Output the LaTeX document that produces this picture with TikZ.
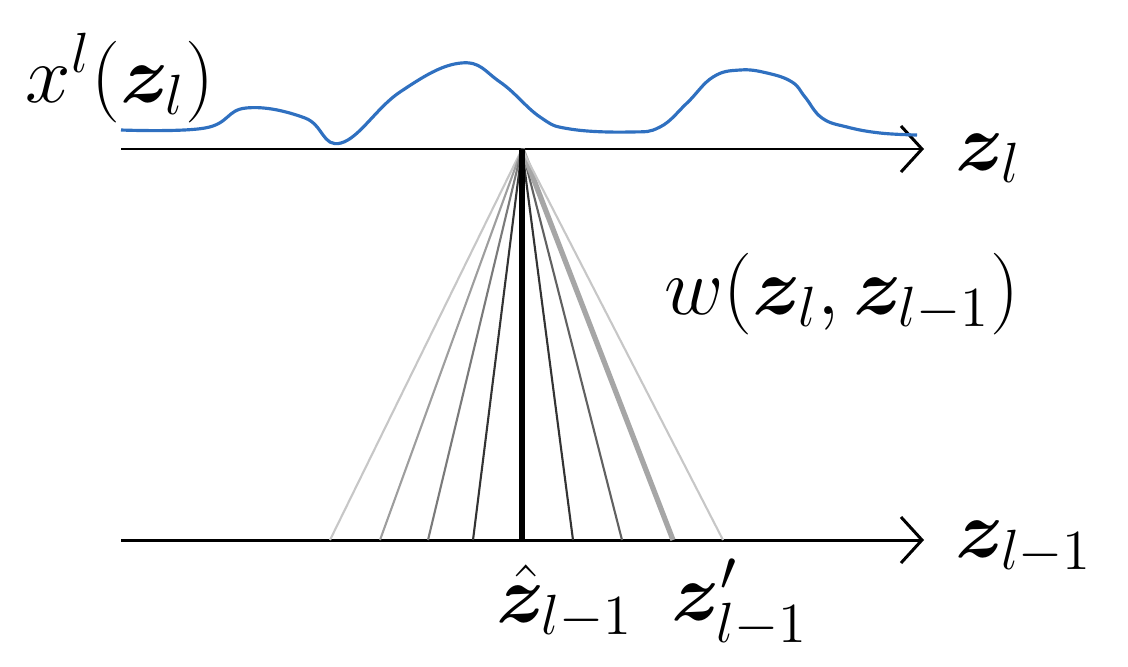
\documentclass[tikz,border=0pt]{standalone}
\usepackage{amsmath,amssymb,bm}
\usepackage{tikz}
\usetikzlibrary{arrows.meta}
\definecolor{signal}{HTML}{2F70C0}
\newcommand{\zv}{\bm{z}}

\begin{document}
\begin{tikzpicture}[x=0.1mm,y=-0.1mm,
  font=\fontsize{20}{24}\selectfont,
  axis/.style={line width=0.85pt,-{Straight Barb[length=2.1mm,width=4.6mm,line width=0.85pt]}},
  ray/.style={line width=0.6pt},
  lbl/.style={inner sep=0pt,scale=1.12,transform shape}]
\useasboundingbox (0,0) rectangle (1128,666);
% axes
\coordinate (top0) at (121,149);
\coordinate (top1) at (924,149);
\coordinate (bot0) at (121,540);
\coordinate (bot1) at (924,540);
\coordinate (apex) at (522,149);
\draw[axis] (top0) -- (top1);
\draw[axis] (bot0) -- (bot1);
% weights
\foreach \x/\c/\w [count=\i] in {330/black!22/0.6pt,380/black!38/0.6pt,428/black!52/0.6pt,473/black!80/0.6pt,
    573/black!80/0.6pt,622/black!62/0.6pt,673/black!35/1.5pt,723/black!22/0.6pt}{
  \coordinate (b\i) at (\x,540);
  \draw[ray,draw=\c,line width=\w] (apex) -- (b\i);
}
\coordinate (bhat) at (522,540);
\draw[line width=1.7pt] (apex) -- (bhat);
% signal
\draw[signal,line width=0.9pt] plot[smooth,tension=0.7] coordinates {
  (121,130) (205,128) (246,108) (305,118) (341,143) (400,92) (461,63)
  (500,82) (540,117) (570,129) (630,132) (660,127) (687,103) (713,77) (740,70)
  (767,73) (792,82) (805,97) (822,118) (847,127) (880,133) (917,135)};
% labels
\node[lbl] (xl) at (120,78) {$x^{l}(\zv_l)$};
\node[lbl,anchor=west] (zl) at (955,158) {$\zv_l$};
\node[lbl,anchor=west] (zlm) at (955,548) {$\zv_{l-1}$};
\node[lbl] (wt) at (842,294) {$w(\zv_l,\zv_{l-1})$};
\node[lbl] (zhat) at (565,602) {$\hat{\zv}_{l-1}$};
\node[lbl] (zpr) at (740,603) {$\zv'_{l-1}$};
\end{tikzpicture}
\end{document}
